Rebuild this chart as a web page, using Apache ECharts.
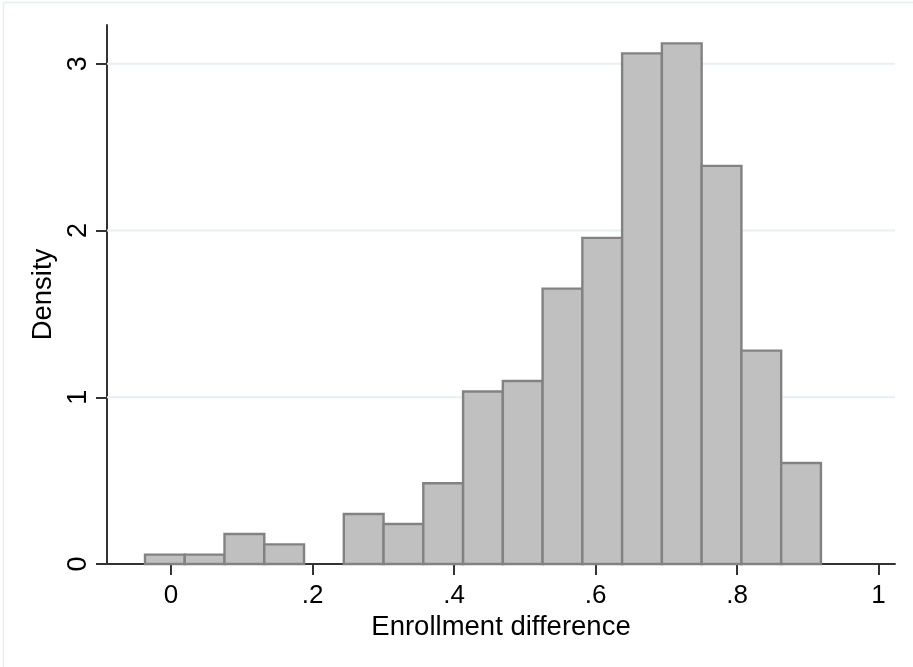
<!DOCTYPE html>
<html>
<head>
<meta charset="utf-8">
<script src="https://cdn.jsdelivr.net/npm/echarts@6/dist/echarts.min.js"></script>
<style>
  html, body { margin: 0; padding: 0; background: #fff; }
  #chart { width: 913px; height: 667px; }
</style>
</head>
<body>
<div id="chart"></div>
<script>
// Histogram of enrollment difference (density scale)
const binStart = -0.0368;
const binWidth = 0.0562;
const density = [0.056, 0.056, 0.18, 0.118, 0, 0.30, 0.24, 0.484, 1.035, 1.098,
                 1.652, 1.956, 3.063, 3.123, 2.388, 1.280, 0.606];
const xTicks = [0, 0.2, 0.4, 0.6, 0.8, 1];
const yTicks = [0, 1, 2, 3];
const xTitle = 'Enrollment difference';
const yTitle = 'Density';

const bins = density.map((d, i) => [binStart + i * binWidth, binStart + (i + 1) * binWidth, d]);
const gridLevels = yTicks.filter(v => v > 0).map(v => [v]);

function fmtTick(v) {
  const s = String(Math.round(v * 10) / 10);
  return s.startsWith('0.') ? s.slice(1) : s;
}

const font = 'Liberation Sans, Arial, sans-serif';
const chart = echarts.init(document.getElementById('chart'), null, { renderer: 'canvas' });

chart.setOption({
  backgroundColor: '#ffffff',
  animation: false,
  graphic: [{
    type: 'rect',
    shape: { x: 3.5, y: 2.5, width: 940, height: 700 },
    style: { fill: 'none', stroke: '#e6eef0', lineWidth: 1.5 },
    silent: true, z: -10
  }],
  grid: { left: 107, right: 18, top: 25, bottom: 103 },
  xAxis: {
    type: 'value',
    min: -0.0905,
    max: 1.0233,
    name: xTitle,
    nameLocation: 'middle',
    nameGap: 44,
    nameTextStyle: { fontFamily: font, fontSize: 27.5, color: '#000' },
    axisLine: { show: true, onZero: false, lineStyle: { color: '#333', width: 2 } },
    axisTick: { show: true, length: 11, customValues: xTicks, lineStyle: { color: '#333', width: 2 } },
    axisLabel: { customValues: xTicks, formatter: fmtTick, margin: 19,
                 fontFamily: font, fontSize: 26, color: '#000' },
    splitLine: { show: false }
  },
  yAxis: {
    type: 'value',
    min: 0,
    max: 3.233,
    name: yTitle,
    nameLocation: 'middle',
    nameRotate: 90,
    nameGap: 45,
    nameTextStyle: { fontFamily: font, fontSize: 27.5, color: '#000' },
    axisLine: { show: true, onZero: false, lineStyle: { color: '#333', width: 2 } },
    axisTick: { show: true, length: 11, customValues: yTicks, lineStyle: { color: '#333', width: 2 } },
    axisLabel: { customValues: yTicks, rotate: 90, margin: 15,
                 fontFamily: font, fontSize: 27, color: '#000' },
    splitLine: { show: false }
  },
  series: [{
    // horizontal reference lines at the labelled density levels
    type: 'custom',
    data: gridLevels,
    encode: { y: 0 },
    silent: true,
    z: 1,
    renderItem: function (params, api) {
      const y = api.coord([0, api.value(0)])[1];
      const cs = params.coordSys;
      return {
        type: 'line',
        shape: { x1: cs.x, y1: y, x2: cs.x + cs.width, y2: y },
        style: { stroke: '#e6eff1', lineWidth: 2 }
      };
    }
  }, {
    type: 'custom',
    data: bins,
    encode: { x: [0, 1], y: 2 },
    z: 3,
    renderItem: function (params, api) {
      if (api.value(2) <= 0) return null;
      const p0 = api.coord([api.value(0), api.value(2)]);
      const p1 = api.coord([api.value(1), 0]);
      return {
        type: 'rect',
        shape: { x: p0[0], y: p0[1], width: p1[0] - p0[0], height: p1[1] - p0[1] },
        style: { fill: '#c0c0c0', stroke: '#828282', lineWidth: 2.4 }
      };
    }
  }]
});
</script>
</body>
</html>
